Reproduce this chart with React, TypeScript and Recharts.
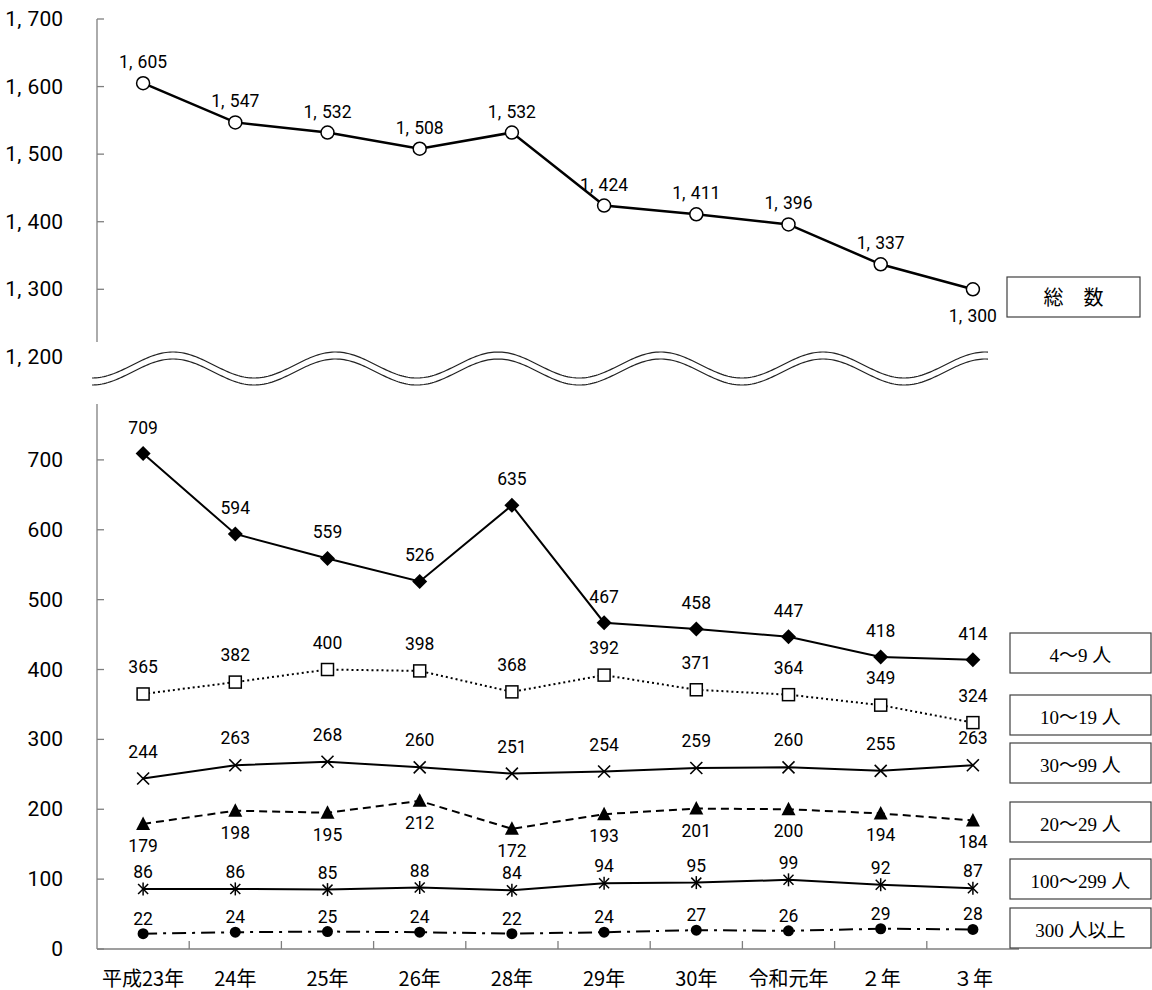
import React from 'react';
import { LineChart, Line, XAxis, YAxis, LabelList } from 'recharts';

// ---------- data ----------
const categories = ['平成23年', '24年', '25年', '26年', '28年', '29年', '30年', '令和元年', '２年', '３年'];
const totalValues = [1605, 1547, 1532, 1508, 1532, 1424, 1411, 1396, 1337, 1300];
const size4to9 = [709, 594, 559, 526, 635, 467, 458, 447, 418, 414];
const size10to19 = [365, 382, 400, 398, 368, 392, 371, 364, 349, 324];
const size30to99 = [244, 263, 268, 260, 251, 254, 259, 260, 255, 263];
const size20to29 = [179, 198, 195, 212, 172, 193, 201, 200, 194, 184];
const size100to299 = [86, 86, 85, 88, 84, 94, 95, 99, 92, 87];
const size300plus = [22, 24, 25, 24, 22, 24, 27, 26, 29, 28];
const topTicks = [1300, 1400, 1500, 1600, 1700];
const bottomTicks = [0, 100, 200, 300, 400, 500, 600, 700];
const breakTickLabel = 1200;
const totalLegend = '総　数';
const seriesLegends = ['4〜9 人', '10〜19 人', '30〜99 人', '20〜29 人', '100〜299 人', '300 人以上'];

const rows = categories.map((c, i) => ({
  cat: c,
  total: totalValues[i],
  s4: size4to9[i],
  s10: size10to19[i],
  s30: size30to99[i],
  s20: size20to29[i],
  s100: size100to299[i],
  s300: size300plus[i],
}));

// ---------- layout ----------
const W = 1152;
const H = 990;
const AXIS_X = 97;
const PLOT_RIGHT = 1019;
const HALF_BAND = (PLOT_RIGHT - AXIS_X) / categories.length / 2;
const TOP_PLOT_TOP = 19;
const TOP_PLOT_BOTTOM = 342;
const TOP_DOMAIN: [number, number] = [1222, 1700];
const TOP_CHART_H = 400;
const BOT_PLOT_TOP = 404;
const BOT_PLOT_BOTTOM = 949;
const BOT_DOMAIN: [number, number] = [0, 780];
const AXIS_COLOR = '#7f7f7f';
const LEGEND_X = 1010;
const LEGEND_W = 141;
const LEGEND_H = 40;
const legendTops = [633, 695, 743, 802, 859, 908];
const TOTAL_LEGEND_BOX = { x: 1007, y: 277, w: 133, h: 40 };

const numFont = "Roboto, 'Liberation Sans', Arial, sans-serif";
const cjkFont = "'Noto Sans CJK JP', 'Noto Sans', sans-serif";
const serifFont = "'Liberation Serif', 'DejaVu Serif', 'Noto Sans CJK JP', serif";

// ---------- helpers ----------
function NumText({ x, y, value, size, anchor }: any) {
  const s = String(value);
  if (value >= 1000) {
    const head = s.slice(0, s.length - 3);
    const tail = s.slice(-3);
    return (
      <text x={x} y={y} textAnchor={anchor} dominantBaseline="central" fontSize={size} fontFamily={numFont} fill="#000">
        {head},<tspan dx={size * 0.3}>{tail}</tspan>
      </text>
    );
  }
  return (
    <text x={x} y={y} textAnchor={anchor} dominantBaseline="central" fontSize={size} fontFamily={numFont} fill="#000">
      {s}
    </text>
  );
}

const YTick = (props: any) => {
  const { y, payload } = props;
  return (
    <g>
      <line x1={AXIS_X} x2={AXIS_X + 7} y1={y} y2={y} stroke={AXIS_COLOR} strokeWidth={1.3} />
      <NumText x={AXIS_X - 34} y={y} value={payload.value} size={21} anchor="end" />
    </g>
  );
};

const XTick = (props: any) => {
  const { x, payload } = props;
  const idx = categories.indexOf(payload.value);
  return (
    <g>
      {idx < categories.length - 1 && (
        <line x1={x + HALF_BAND} x2={x + HALF_BAND} y1={BOT_PLOT_BOTTOM} y2={BOT_PLOT_BOTTOM - 8} stroke={AXIS_COLOR} strokeWidth={1.3} />
      )}
      <text x={x} y={BOT_PLOT_BOTTOM + 28} textAnchor="middle" dominantBaseline="central" fontSize={20} fontFamily={cjkFont} fill="#000">
        {payload.value}
      </text>
    </g>
  );
};

const labelAt = (dy: number, lastDy?: number) => (p: any) => {
  const { x, y, value, index } = p;
  const d = lastDy !== undefined && index === categories.length - 1 ? lastDy : dy;
  return <NumText key={`l-${index}`} x={x} y={y + d} value={value} size={17.5} anchor="middle" />;
};

// markers
const OpenCircle = (p: any) => <circle key={`d-${p.index}`} cx={p.cx} cy={p.cy} r={6.5} fill="#fff" stroke="#000" strokeWidth={1.5} />;
const Diamond = (p: any) => (
  <polygon key={`d-${p.index}`} points={`${p.cx},${p.cy - 7.5} ${p.cx + 7.5},${p.cy} ${p.cx},${p.cy + 7.5} ${p.cx - 7.5},${p.cy}`} fill="#000" />
);
const OpenSquare = (p: any) => <rect key={`d-${p.index}`} x={p.cx - 6} y={p.cy - 6} width={12} height={12} fill="#fff" stroke="#000" strokeWidth={1.5} />;
const Cross = (p: any) => (
  <g key={`d-${p.index}`} stroke="#000" strokeWidth={1.6}>
    <line x1={p.cx - 6} y1={p.cy - 6} x2={p.cx + 6} y2={p.cy + 6} />
    <line x1={p.cx - 6} y1={p.cy + 6} x2={p.cx + 6} y2={p.cy - 6} />
  </g>
);
const Triangle = (p: any) => (
  <polygon key={`d-${p.index}`} points={`${p.cx},${p.cy - 7.5} ${p.cx + 7},${p.cy + 6} ${p.cx - 7},${p.cy + 6}`} fill="#000" />
);
const Star = (p: any) => (
  <g key={`d-${p.index}`} stroke="#000" strokeWidth={1.5}>
    <line x1={p.cx - 5} y1={p.cy - 5} x2={p.cx + 5} y2={p.cy + 5} />
    <line x1={p.cx - 5} y1={p.cy + 5} x2={p.cx + 5} y2={p.cy - 5} />
    <line x1={p.cx} y1={p.cy - 6.5} x2={p.cx} y2={p.cy + 6.5} />
  </g>
);
const Dot = (p: any) => <circle key={`d-${p.index}`} cx={p.cx} cy={p.cy} r={5.5} fill="#000" />;

// wave (axis break decoration)
function wavePath(offset: number) {
  const x0 = 92;
  const x1 = 988;
  const crestX = 173;
  const period = 162.5;
  const amp = 13;
  const cy = 368.5 + offset;
  let d = '';
  for (let x = x0; x <= x1; x += 2) {
    const y = cy - amp * Math.cos((2 * Math.PI * (x - crestX)) / period);
    d += (d ? ' L ' : 'M ') + x + ' ' + y.toFixed(2);
  }
  return d;
}

export default function App() {
  const topPxPerUnit = (TOP_PLOT_BOTTOM - TOP_PLOT_TOP) / (TOP_DOMAIN[1] - TOP_DOMAIN[0]);
  const breakLabelY = TOP_PLOT_TOP + (TOP_DOMAIN[1] - breakTickLabel) * topPxPerUnit;
  return (
    <div style={{ position: 'absolute', left: 0, top: 0, width: W, height: H, background: '#fff', overflow: 'hidden' }}>
      <div style={{ position: 'absolute', left: 0, top: 0 }}>
        <LineChart
          width={W}
          height={H}
          data={rows}
          margin={{ top: BOT_PLOT_TOP, right: W - PLOT_RIGHT, left: 0, bottom: 0 }}
        >
          <XAxis
            dataKey="cat"
            height={H - BOT_PLOT_BOTTOM}
            interval={0}
            padding={{ left: HALF_BAND, right: HALF_BAND }}
            axisLine={{ stroke: AXIS_COLOR, strokeWidth: 1.3 }}
            tickLine={false}
            tick={<XTick />}
          />
          <YAxis
            width={AXIS_X}
            domain={BOT_DOMAIN}
            ticks={bottomTicks}
            interval={0}
            axisLine={{ stroke: AXIS_COLOR, strokeWidth: 1.3 }}
            tickLine={false}
            tickSize={0}
            tick={<YTick />}
          />
          <Line dataKey="s4" stroke="#000" strokeWidth={2} dot={Diamond} activeDot={false} isAnimationActive={false}>
            <LabelList dataKey="s4" content={labelAt(-26)} />
          </Line>
          <Line dataKey="s10" stroke="#000" strokeWidth={2} strokeDasharray="2 3" dot={OpenSquare} activeDot={false} isAnimationActive={false}>
            <LabelList dataKey="s10" content={labelAt(-27)} />
          </Line>
          <Line dataKey="s30" stroke="#000" strokeWidth={2} dot={Cross} activeDot={false} isAnimationActive={false}>
            <LabelList dataKey="s30" content={labelAt(-27)} />
          </Line>
          <Line dataKey="s20" stroke="#000" strokeWidth={2} strokeDasharray="8 5" dot={Triangle} activeDot={false} isAnimationActive={false}>
            <LabelList dataKey="s20" content={labelAt(22)} />
          </Line>
          <Line dataKey="s100" stroke="#000" strokeWidth={2} dot={Star} activeDot={false} isAnimationActive={false}>
            <LabelList dataKey="s100" content={labelAt(-17)} />
          </Line>
          <Line dataKey="s300" stroke="#000" strokeWidth={2} strokeDasharray="14 6 3 6" dot={Dot} activeDot={false} isAnimationActive={false}>
            <LabelList dataKey="s300" content={labelAt(-15)} />
          </Line>
        </LineChart>
      </div>

      <div style={{ position: 'absolute', left: 0, top: 0 }}>
        <LineChart
          width={W}
          height={TOP_CHART_H}
          data={rows}
          margin={{ top: TOP_PLOT_TOP, right: W - PLOT_RIGHT, left: 0, bottom: TOP_CHART_H - TOP_PLOT_BOTTOM }}
        >
          <XAxis dataKey="cat" hide height={0} padding={{ left: HALF_BAND, right: HALF_BAND }} />
          <YAxis
            width={AXIS_X}
            domain={TOP_DOMAIN}
            ticks={topTicks}
            interval={0}
            allowDataOverflow
            axisLine={{ stroke: AXIS_COLOR, strokeWidth: 1.3 }}
            tickLine={false}
            tickSize={0}
            tick={<YTick />}
          />
          <Line dataKey="total" stroke="#000" strokeWidth={2.5} dot={OpenCircle} activeDot={false} isAnimationActive={false}>
            <LabelList dataKey="total" content={labelAt(-21, 27)} />
          </Line>
        </LineChart>
      </div>

      <svg width={W} height={H} style={{ position: 'absolute', left: 0, top: 0, pointerEvents: 'none' }}>
        <NumText x={AXIS_X - 34} y={breakLabelY} value={breakTickLabel} size={21} anchor="end" />
        <path d={wavePath(-3.5)} fill="none" stroke="#222" strokeWidth={1.2} />
        <path d={wavePath(3.5)} fill="none" stroke="#222" strokeWidth={1.2} />

        <rect x={TOTAL_LEGEND_BOX.x} y={TOTAL_LEGEND_BOX.y} width={TOTAL_LEGEND_BOX.w} height={TOTAL_LEGEND_BOX.h} fill="#fff" stroke="#404040" strokeWidth={1.2} />
        <text
          x={TOTAL_LEGEND_BOX.x + TOTAL_LEGEND_BOX.w / 2}
          y={TOTAL_LEGEND_BOX.y + TOTAL_LEGEND_BOX.h / 2 + 1}
          textAnchor="middle"
          dominantBaseline="central"
          fontSize={20}
          fontFamily={serifFont}
          fill="#000"
        >
          {totalLegend}
        </text>

        {seriesLegends.map((lab, i) => (
          <g key={lab}>
            <rect x={LEGEND_X} y={legendTops[i]} width={LEGEND_W} height={LEGEND_H} fill="#fff" stroke="#404040" strokeWidth={1.2} />
            <text
              x={LEGEND_X + LEGEND_W / 2}
              y={legendTops[i] + LEGEND_H / 2 + 2}
              textAnchor="middle"
              dominantBaseline="central"
              fontSize={19}
              fontFamily={serifFont}
              fill="#000"
            >
              {lab}
            </text>
          </g>
        ))}
      </svg>
    </div>
  );
}
